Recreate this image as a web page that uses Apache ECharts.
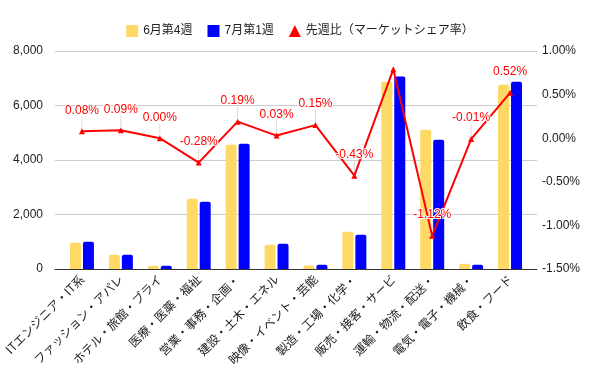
<!DOCTYPE html>
<html><head><meta charset="utf-8">
<script src="https://cdn.jsdelivr.net/npm/echarts@6/dist/echarts.min.js"></script>
<style>html,body{margin:0;padding:0;background:#fff}#c{width:600px;height:371px}</style>
</head><body><div id="c"></div>
<script>
var categories = ['ITエンジニア・IT系','ファッション・アパレ','ホテル・旅館・ブライ','医療・医薬・福祉','営業・事務・企画・','建設・土木・エネル','映像・イベント・芸能','製造・工場・化学・','販売・接客・サービ','運輸・物流・配送・','電気・電子・機械・','飲食・フード'];
var june4 = [960, 525, 120, 2580, 4560, 890, 125, 1370, 6870, 5110, 195, 6760];
var july1 = [1000, 525, 120, 2470, 4600, 930, 160, 1260, 7060, 4745, 160, 6870];
var shareChange = [0.08, 0.09, 0.00, -0.28, 0.19, 0.03, 0.15, -0.43, 0.79, -1.12, -0.01, 0.52];
var hiddenLabels = [8];
var leftTicks = [0, 8000, 2000];
var rightTicks = [-1.5, 1.0, 0.5];

var FONT = '"Liberation Sans", Arial, "Noto Sans CJK JP", sans-serif';
var chart = echarts.init(document.getElementById('c'), null, {renderer: 'canvas'});
var lineData = shareChange.map(function (v, i) {
  var d = {value: v};
  if (hiddenLabels.indexOf(i) >= 0) { d.label = {show: false}; }
  return d;
});
var leaderData = shareChange.map(function (v, i) { return [i, v, hiddenLabels.indexOf(i) >= 0 ? 0 : 1]; });
chart.setOption({
  animation: false,
  textStyle: {fontFamily: FONT},
  legend: {
    left: 'center', top: 20, itemWidth: 12, itemHeight: 12, itemGap: 15,
    textStyle: {fontSize: 12, color: '#222', fontFamily: FONT},
    data: [
      {name: '6月第4週', icon: 'rect'},
      {name: '7月第1週', icon: 'rect'},
      {name: '先週比（マーケットシェア率）', icon: 'triangle'}
    ]
  },
  grid: [
    {left: 62.5, right: 70.5, top: 51, bottom: 102},
    {left: 55, right: 63, top: 51, bottom: 102}
  ],
  xAxis: [
    {type: 'category', gridIndex: 0, data: categories,
     axisLine: {show: false}, axisTick: {show: false},
     axisLabel: {rotate: 45, interval: 0, fontSize: 12, color: '#222', margin: 8, fontFamily: '"Noto Sans CJK JP", sans-serif'}},
    {type: 'category', gridIndex: 1, data: categories, show: true,
     axisLine: {show: true, lineStyle: {color: '#333', width: 1}}, axisTick: {show: false}, axisLabel: {show: false}}
  ],
  yAxis: [
    {type: 'value', gridIndex: 0, min: leftTicks[0], max: leftTicks[1], interval: leftTicks[2], show: false},
    {type: 'value', gridIndex: 0, min: rightTicks[0], max: rightTicks[1], interval: rightTicks[2], show: false},
    {type: 'value', gridIndex: 1, position: 'left', min: leftTicks[0], max: leftTicks[1], interval: leftTicks[2],
     axisLine: {show: false}, axisTick: {show: false},
     splitLine: {lineStyle: {color: '#ccc'}},
     axisLabel: {fontSize: 12, color: '#222', margin: 12, formatter: function (v) { return v.toLocaleString('en-US'); }}},
    {type: 'value', gridIndex: 1, position: 'right', min: rightTicks[0], max: rightTicks[1], interval: rightTicks[2],
     axisLine: {show: false}, axisTick: {show: false}, splitLine: {show: false},
     axisLabel: {fontSize: 12, color: '#222', margin: 5, formatter: function (v) { return v.toFixed(2) + '%'; }}}
  ],
  series: [
    {name: '6月第4週', type: 'bar', xAxisIndex: 0, yAxisIndex: 0, data: june4, barWidth: 11, barGap: '18%',
     itemStyle: {color: '#ffd966', borderRadius: [2, 2, 0, 0]}},
    {name: '7月第1週', type: 'bar', xAxisIndex: 0, yAxisIndex: 0, data: july1, barWidth: 11, barGap: '18%',
     itemStyle: {color: '#0000ff', borderRadius: [2, 2, 0, 0]}},
    {name: 'leader', type: 'custom', xAxisIndex: 0, yAxisIndex: 1, data: leaderData, z: 4, silent: true,
     renderItem: function (params, api) {
       if (!api.value(2)) return null;
       var p = api.coord([api.value(0), api.value(1)]);
       return {type: 'line', shape: {x1: p[0], y1: p[1] - 3, x2: p[0], y2: p[1] - 15},
               style: {stroke: '#ddd', lineWidth: 1}};
     }},
    {name: '先週比（マーケットシェア率）', type: 'line', xAxisIndex: 0, yAxisIndex: 1, data: lineData,
     symbol: 'triangle', symbolSize: 6, z: 5,
     lineStyle: {color: '#ff0000', width: 2}, itemStyle: {color: '#ff0000'},
     label: {show: true, position: 'top', distance: 2, color: '#ff0000', fontSize: 12,
             textBorderColor: '#fff', textBorderWidth: 2,
             formatter: function (p) { return p.value.toFixed(2) + '%'; }},
     labelLayout: {dy: -10}}
  ]
});
</script></body></html>
